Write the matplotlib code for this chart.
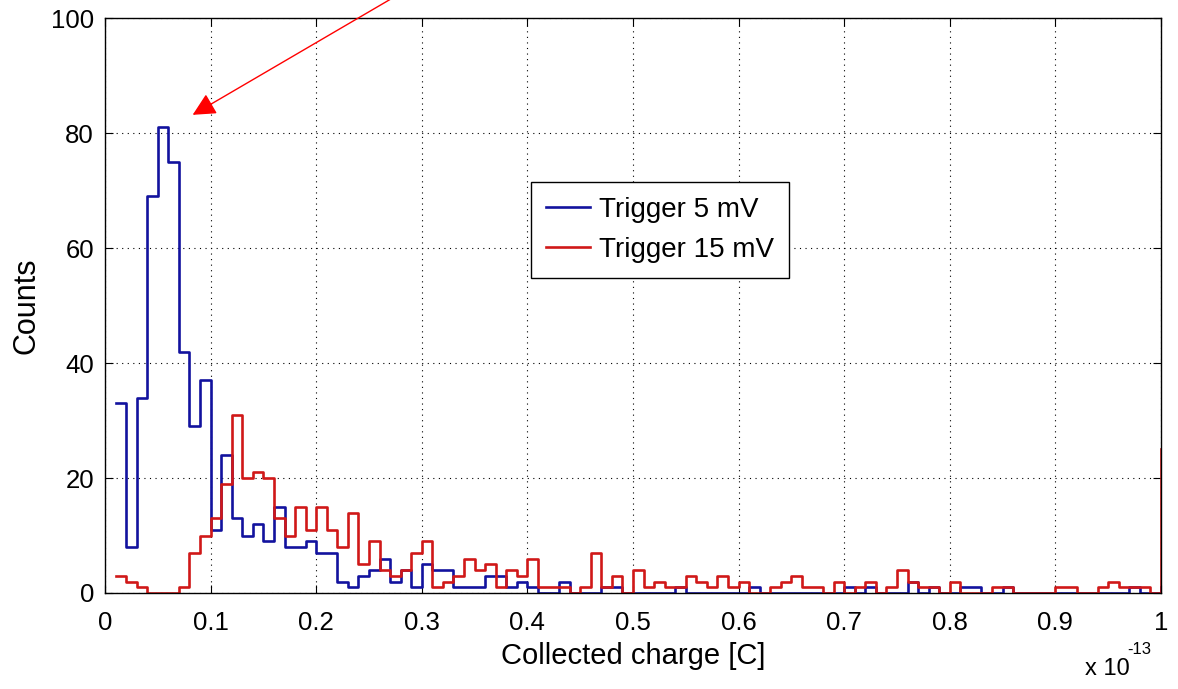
import numpy as np
import matplotlib
matplotlib.use('Agg')
import matplotlib.pyplot as plt

# Bin positions (units of 1e-13 C)
charge = np.round(np.arange(1, 101) * 0.01, 2)

# Counts per bin, trigger 5 mV
counts_5mv = [33, 8, 34, 69, 81, 75, 42, 29, 37, 11,
              24, 13, 10, 12, 9, 15, 8, 8, 9, 7,
              7, 2, 1, 3, 4, 6, 2, 4, 1, 5,
              4, 4, 1, 1, 1, 3, 3, 1, 2, 1,
              0, 0, 2, 0, 0, 0, 1, 1, 0, 0,
              0, 0, 0, 1, 0, 0, 0, 0, 0, 0,
              1, 0, 0, 0, 0, 0, 0, 0, 0, 1,
              0, 1, 0, 0, 0, 2, 0, 1, 0, 0,
              1, 1, 0, 0, 1, 0, 0, 0, 0, 0,
              0, 0, 0, 0, 0, 0, 1, 0, 0, 1]

# Counts per bin, trigger 15 mV
counts_15mv = [3, 2, 1, 0, 0, 0, 1, 7, 10, 13,
               19, 31, 20, 21, 20, 13, 10, 15, 11, 15,
               11, 8, 14, 5, 9, 4, 3, 4, 7, 9,
               1, 2, 3, 6, 4, 5, 1, 4, 3, 6,
               1, 1, 1, 0, 1, 7, 1, 3, 0, 4,
               1, 2, 1, 1, 3, 2, 1, 3, 1, 2,
               0, 0, 1, 2, 3, 1, 1, 0, 2, 0,
               1, 2, 0, 1, 4, 2, 1, 1, 0, 2,
               0, 0, 0, 1, 1, 0, 0, 0, 0, 1,
               1, 0, 0, 1, 2, 1, 1, 1, 0, 25]

xticks = np.round(np.arange(0, 1.01, 0.1), 1)
xtick_labels = ['0', '0.1', '0.2', '0.3', '0.4', '0.5', '0.6', '0.7', '0.8', '0.9', '1']
yticks = [0, 20, 40, 60, 80, 100]

plt.rcParams['font.family'] = ['Liberation Sans', 'DejaVu Sans']

fig = plt.figure(figsize=(11.78, 6.89), dpi=100)
ax = fig.add_axes([105 / 1178, 1 - 593 / 689, 1056 / 1178, (593 - 18.3) / 689])

ax.step(charge, counts_5mv, where='post', color='#12129e', lw=1.9, label='Trigger 5 mV')
ax.step(charge, counts_15mv, where='post', color='#d01818', lw=1.9, label='Trigger 15 mV')

ax.set_xlim(0, 1)
ax.set_ylim(0, 100)
ax.set_xticks(xticks)
ax.set_xticklabels(xtick_labels)
ax.set_yticks(yticks)
ax.tick_params(direction='in', top=True, right=True, length=6, labelsize=18.5)
ax.tick_params(axis='x', pad=13)
ax.tick_params(axis='y', pad=8)
ax.grid(True, color='black', linestyle=(0, (1, 4)), linewidth=0.8)
for s in ax.spines.values():
    s.set_linewidth(1.0)

ax.set_xlabel('Collected charge [C]', fontsize=21, labelpad=5)
ax.set_ylabel('Counts', fontsize=22, labelpad=7)

# MATLAB-style exponent label
fig.text(1085 / 1178, 1 - 669 / 689, 'x 10', fontsize=17, va='center', ha='left')
fig.text(1127 / 1178, 1 - 649 / 689, '-13', fontsize=12, va='center', ha='left')

leg = ax.legend(loc='upper left', bbox_to_anchor=(0.403, 0.716), borderaxespad=0,
                fontsize=20, fancybox=False, edgecolor='black', framealpha=1,
                handlelength=1.6, handletextpad=0.3, borderpad=0.55,
                labelspacing=0.5)
leg.get_frame().set_linewidth(1.0)

# Arrow pointing at the peak
ax.annotate('', xy=(0.083, 83.2), xytext=(0.272, 103.5),
            arrowprops=dict(arrowstyle='-|>', color='red', lw=1.0,
                            mutation_scale=35, shrinkA=0, shrinkB=0),
            annotation_clip=False)

fig.savefig('out.png', dpi=100)
